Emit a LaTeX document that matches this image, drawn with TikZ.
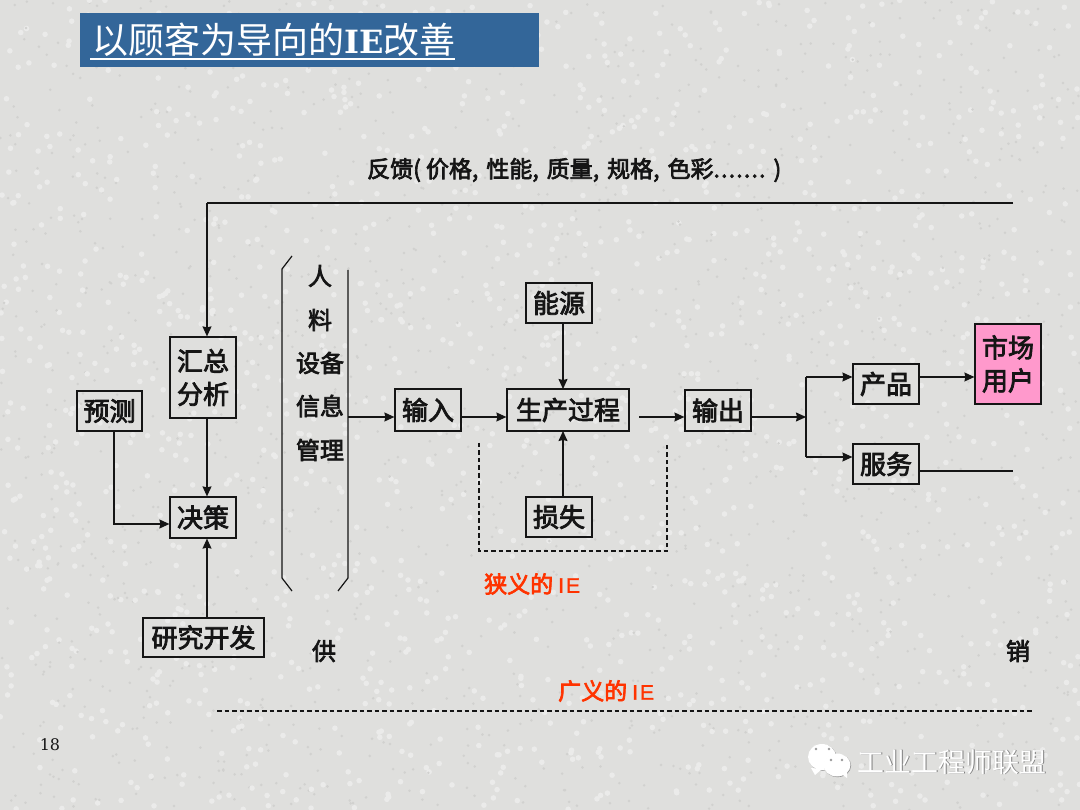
\documentclass[tikz,border=0pt]{standalone}
\usepackage{fontspec}
\setmainfont{Noto Sans CJK SC}
\newfontfamily\medcjk[FakeBold=3]{Noto Sans CJK SC}
\newfontfamily\serifb{DejaVu Serif}
\newfontfamily\latinsans[FakeBold=1.5]{Liberation Sans}
\definecolor{bgc}{HTML}{DFDFDD}
\definecolor{specklight}{HTML}{EBEBEA}
\definecolor{speckdark}{HTML}{D1D1CF}
\definecolor{titleblue}{HTML}{336699}
\definecolor{pinkbox}{HTML}{FF99CC}
\definecolor{redlabel}{HTML}{FF3300}
\definecolor{lineblk}{HTML}{151515}
\usetikzlibrary{arrows.meta}
\tikzset{
  box/.style={draw=lineblk,line width=1.2pt,inner sep=0pt,align=center,font=\medcjk\fontsize{26}{33}\selectfont,text=lineblk},
  conn/.style={draw=lineblk,line width=1.2pt},
  arr/.style={conn,-{Stealth[length=10pt,width=9pt,inset=1pt]}},
  dashline/.style={draw=lineblk,line width=1.2pt,dash pattern=on 4.5pt off 3pt},
  lbl/.style={inner sep=0pt,font=\medcjk\fontsize{24}{26}\selectfont,text=lineblk},
  redl/.style={inner sep=0pt,anchor=west,font=\medcjk\fontsize{23}{25}\selectfont,text=redlabel},
}
\newcommand{\cgap}{\hspace{8pt}}
\newcommand{\dgap}{\hspace{1.2pt}}
\begin{document}
\begin{tikzpicture}[x=1pt,y=-1pt]
\useasboundingbox (0,0) rectangle (1080,810);
\fill[bgc] (0,0) rectangle (1080,810);
\pgfmathsetseed{42}
\foreach \i in {1,...,1500}{
  \pgfmathsetmacro\xa{rnd*1080}
  \pgfmathsetmacro\ya{rnd*810}
  \fill[specklight] (\xa,\ya) circle (2.8pt);
  \pgfmathsetmacro\xb{rnd*1080}
  \pgfmathsetmacro\yb{rnd*810}
  \fill[speckdark] (\xb,\yb) circle (1.4pt);
}
% title
\node[fill=titleblue,minimum width=459pt,minimum height=54pt,inner sep=0pt,anchor=north west] (titlebar) at (79.5,13) {};
\node[anchor=west,inner sep=0pt,text=white,font=\fontsize{36}{40}\selectfont] (titletext) at (92,40) {以顾客为导向的{\serifb\bfseries\fontsize{32}{40}\selectfont IE}改善};
\draw[white,line width=1.4pt] (90,59) -- (455,59);
% boxes
\node[box,minimum width=65pt,minimum height=40pt] (yuce) at (109.5,411) {预测};
\node[box,minimum width=66pt,minimum height=81pt] (huizong) at (203,377.5) {汇总\\分析};
\node[box,minimum width=66pt,minimum height=41pt] (juece) at (203,517.5) {决策};
\node[box,minimum width=121pt,minimum height=39pt] (yanjiu) at (203.5,637.5) {研究开发};
\node[box,minimum width=66pt,minimum height=42pt] (shuru) at (428,410) {输入};
\node[box,minimum width=122pt,minimum height=42pt] (shengchan) at (568,410) {生产过程};
\node[box,minimum width=66pt,minimum height=40pt] (nengyuan) at (559,303) {能源};
\node[box,minimum width=66pt,minimum height=40pt] (sunshi) at (559,517) {损失};
\node[box,minimum width=66pt,minimum height=41pt] (shuchu) at (718,410.5) {输出};
\node[box,minimum width=66pt,minimum height=40pt] (chanpin) at (886,384) {产品};
\node[box,minimum width=66pt,minimum height=40pt] (fuwu) at (886,464) {服务};
\node[box,fill=pinkbox,minimum width=66pt,minimum height=80pt] (shichang) at (1008,364) {市场\\用户};
% named free ends
\coordinate (fbend) at (1013,203);
\coordinate (fbcorner) at (207,203);
\coordinate (fwend) at (1013,471);
\coordinate (bracketout) at (348,417);
\coordinate (fork) at (806,417);
\coordinate (forkup) at (806,377);
\coordinate (forkdn) at (806,457);
\coordinate (prein) at (114,524);
% bracket
\draw[conn] (292,256) -- (282,269) -- (282,578) -- (292,591);
\draw[conn] (348,270) -- (348,578) -- (338,591);
% connectors
\draw[conn] (fbend) -- (fbcorner);
\draw[arr] (fbcorner) -- (fbcorner |- huizong.north);
\draw[arr] (huizong.south -| fbcorner) -- (fbcorner |- juece.north);
\draw[arr] (yuce.south -| prein) -- (prein) -- (prein -| juece.west);
\draw[arr] (fbcorner |- yanjiu.north) -- (fbcorner |- juece.south);
\draw[arr] (bracketout) -- (bracketout -| shuru.west);
\draw[arr] (bracketout -| shuru.east) -- (bracketout -| shengchan.west);
\draw[arr] (639,417) -- (bracketout -| shuchu.west);
\draw[arr] (bracketout -| shuchu.east) -- (fork);
\draw[conn] (forkup) -- (forkdn);
\draw[arr] (forkup) -- (forkup -| chanpin.west);
\draw[arr] (forkdn) -- (forkdn -| fuwu.west);
\draw[arr] (forkup -| chanpin.east) -- (forkup -| shichang.west);
\draw[conn] (fwend -| fuwu.east) -- (fwend);
\draw[arr] (563,323) -- (563,389);
\draw[arr] (563,497) -- (563,431);
% dashed
\draw[dashline] (479,443) -- (479,551) -- (667,551) -- (667,443);
\draw[dashline] (217,711) -- (1032,711);
% labels
\node[lbl] (renl) at (320,276) {人};
\node[lbl] (liao) at (320,320) {料};
\node[lbl] (shebei) at (320,363) {设备};
\node[lbl] (xinxi) at (320,406) {信息};
\node[lbl] (guanli) at (320,450) {管理};
\node[lbl] (gong) at (324,651) {供};
\node[lbl] (xiao) at (1018,651) {销};
\node[inner sep=0pt,anchor=west,font=\medcjk\fontsize{23}{26}\selectfont,text=lineblk] (fankui) at (367,170) {反馈(\hspace{5pt}价格,\cgap 性能,\cgap 质量,\cgap 规格,\cgap 色彩.\dgap.\dgap.\dgap.\dgap.\dgap.\dgap.\hspace{8pt})};
\node[redl] (xiayi) at (484,584) {狭义的\hspace{5pt}{\latinsans\fontsize{21}{25}\selectfont I\hspace{2pt}E}};
\node[redl] (guangyi) at (558,691) {广义的\hspace{5pt}{\latinsans\fontsize{21}{25}\selectfont I\hspace{2pt}E}};
\node[inner sep=0pt,font=\serifb\fontsize{16}{20}\selectfont,text=lineblk] (pageno) at (50,745) {18};
% watermark
\fill[black!45] (822.6,757.6) ellipse (14pt and 13pt);
\fill[white] (822,757) ellipse (14pt and 13pt);
\fill[white] (811,768) -- (815,775) -- (822,769) -- cycle;
\fill[black!45] (837.6,765.6) ellipse (13.5pt and 11.5pt);
\fill[white] (837,765) ellipse (13.5pt and 11.5pt);
\fill[white] (840,773) -- (847,778) -- (847,770) -- cycle;
\fill[black!40] (816,749) circle (1.3pt) (829,749) circle (1.3pt) (831,760) circle (1.3pt) (842,760) circle (1.3pt);
\node[inner sep=0pt,text=black!50,font=\fontsize{27}{30}\selectfont,anchor=west] (wmarks) at (857.8,762.8) {工业工程师联盟};
\node[inner sep=0pt,text=white,font=\fontsize{27}{30}\selectfont,anchor=west] (wmark) at (857,762) {工业工程师联盟};
\end{tikzpicture}
\end{document}
